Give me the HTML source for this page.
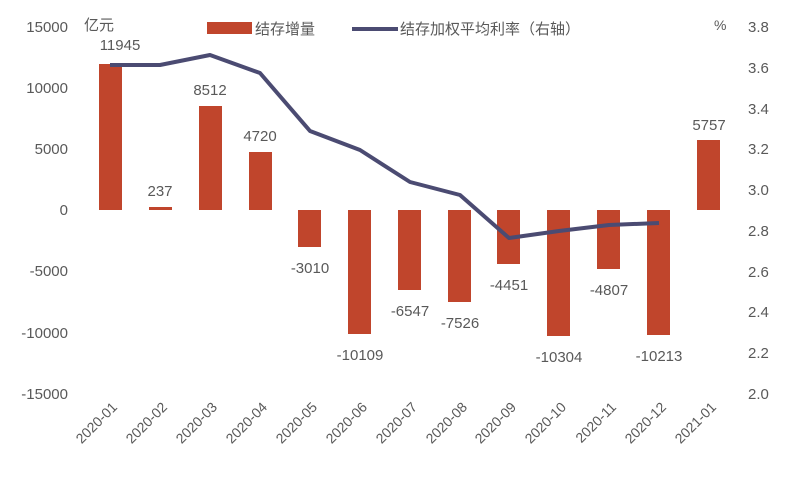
<!DOCTYPE html><html><head><style>body{margin:0;background:#fff}</style></head><body>
<svg width="800" height="493" xmlns="http://www.w3.org/2000/svg" font-family="'Liberation Sans','Noto Sans CJK SC',sans-serif" fill="#595959">
<g font-size="15" text-anchor="end">
<text x="68" y="32">15000</text><text x="68" y="93">10000</text><text x="68" y="154">5000</text><text x="68" y="215">0</text><text x="68" y="276">-5000</text><text x="68" y="338">-10000</text><text x="68" y="399">-15000</text>
</g>
<g font-size="15" text-anchor="start">
<text x="748" y="32">3.8</text><text x="748" y="73">3.6</text><text x="748" y="114">3.4</text><text x="748" y="154">3.2</text><text x="748" y="195">3.0</text><text x="748" y="236">2.8</text><text x="748" y="277">2.6</text><text x="748" y="317">2.4</text><text x="748" y="358">2.2</text><text x="748" y="399">2.0</text>
</g>
<text x="84" y="30" font-size="15">亿元</text>
<text x="714" y="30" font-size="14">%</text>
<rect x="207" y="22" width="45" height="12" fill="#c0452c"/>
<text x="255" y="34" font-size="15">结存增量</text>
<line x1="352" y1="29" x2="398" y2="29" stroke="#4b4b72" stroke-width="4"/>
<text x="400" y="34" font-size="15">结存加权平均利率（右轴）</text>
<g fill="#c0452c">
<rect x="99" y="64" width="23" height="146"/>
<rect x="149" y="207" width="23" height="3"/>
<rect x="199" y="106" width="23" height="104"/>
<rect x="249" y="152" width="23" height="58"/>
<rect x="298" y="210" width="23" height="37"/>
<rect x="348" y="210" width="23" height="124"/>
<rect x="398" y="210" width="23" height="80"/>
<rect x="448" y="210" width="23" height="92"/>
<rect x="497" y="210" width="23" height="54"/>
<rect x="547" y="210" width="23" height="126"/>
<rect x="597" y="210" width="23" height="59"/>
<rect x="647" y="210" width="23" height="125"/>
<rect x="697" y="140" width="23" height="70"/>
</g>
<polyline fill="none" stroke="#4b4b72" stroke-width="4" stroke-linejoin="round" points="110,65 160,65 210,55 260,73 310,131 360,150 410,182 460,195 509,238 559,231 609,225 659,223"/>
<g font-size="15" text-anchor="middle">
<text x="120" y="50">11945</text><text x="160" y="196">237</text><text x="210" y="95">8512</text><text x="260" y="141">4720</text>
<text x="310" y="273">-3010</text><text x="360" y="360">-10109</text><text x="410" y="316">-6547</text><text x="460" y="328">-7526</text>
<text x="509" y="290">-4451</text><text x="559" y="362">-10304</text><text x="609" y="295">-4807</text><text x="659" y="361">-10213</text><text x="709" y="130">5757</text>
</g>
<g font-size="14" text-anchor="end">
<text transform="translate(118,408) rotate(-45)">2020-01</text>
<text transform="translate(168,408) rotate(-45)">2020-02</text>
<text transform="translate(218,408) rotate(-45)">2020-03</text>
<text transform="translate(268,408) rotate(-45)">2020-04</text>
<text transform="translate(318,408) rotate(-45)">2020-05</text>
<text transform="translate(368,408) rotate(-45)">2020-06</text>
<text transform="translate(418,408) rotate(-45)">2020-07</text>
<text transform="translate(468,408) rotate(-45)">2020-08</text>
<text transform="translate(517,408) rotate(-45)">2020-09</text>
<text transform="translate(567,408) rotate(-45)">2020-10</text>
<text transform="translate(617,408) rotate(-45)">2020-11</text>
<text transform="translate(667,408) rotate(-45)">2020-12</text>
<text transform="translate(717,408) rotate(-45)">2021-01</text>
</g>
</svg>
</body></html>
